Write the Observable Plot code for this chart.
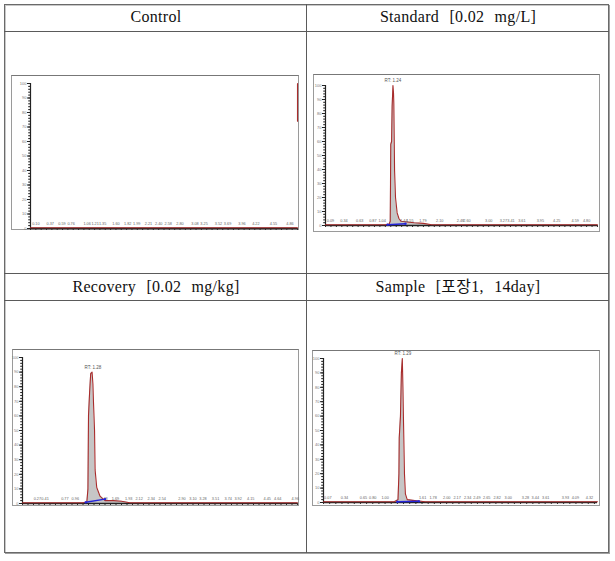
<!DOCTYPE html>
<html><head><meta charset="utf-8">
<script src="https://cdn.jsdelivr.net/npm/d3@7"></script>
<script src="https://cdn.jsdelivr.net/npm/@observablehq/plot@0.6"></script>
<style>
body{margin:0;background:#fff;width:615px;height:561px;position:relative;overflow:hidden;font-family:"Liberation Serif","Noto Sans CJK KR",serif;}
.ln{position:absolute;background:#5a5a5a;}
.hd{position:absolute;width:302px;text-align:center;font-size:16px;color:#111;line-height:16px;letter-spacing:0.3px;word-spacing:6px;white-space:nowrap}
.panel{position:absolute;border:1px solid #9a9a9a;border-top-color:#777;background:#fff;}
.panel svg{display:block}
</style></head><body>
<script>
// ---------- data ----------
const headers = ["Control", "Standard [0.02 mg/L]", "Recovery [0.02 mg/kg]", "Sample [포장1, 14day]"];

// Control trace (retention time, relative abundance %); null = gap in the trace
const conT = [0, 5.0, 5.0, 5.0, 5.0];
const conV = [0.5, 0.5, null, 74, 100];
const conLabels = ["0.10","0.37","0.59","0.76","1.06","1.21","1.35","1.60","1.82","1.99","2.21","2.40","2.58","2.80","3.08","3.25","3.52","3.69","3.96","4.22","4.55","4.86"];

// Standard
const stdT = [0, 1.10, 1.17, 1.19, 1.195, 1.20, 1.215, 1.225, 1.24, 1.25, 1.256, 1.27, 1.287, 1.317, 1.35, 1.39, 1.50, 1.63, 1.80, 1.95, 5.0];
const stdV = [0.5, 0.5, 1, 3, 30, 58, 60, 85, 100, 95, 87, 39, 20, 9, 5, 3, 2.5, 2, 1.5, 0.5, 0.5];
const stdLabels = ["0.09","0.34","0.63","0.87","1.04","1.44","1.55","1.79","2.10","2.48","2.60","3.00","3.27","3.41","3.61","3.95","4.25","4.59","4.80"];
const stdBaseT = [1.14, 1.47];
const stdBaseV = [0.6, 1.2];
const stdRT = 1.24, stdRTv = 100;

// Recovery
const recT = [0, 1.10, 1.17, 1.19, 1.20, 1.22, 1.24, 1.265, 1.28, 1.29, 1.31, 1.32, 1.35, 1.41, 1.50, 1.65, 1.80, 1.95, 5.0];
const recV = [0.5, 0.5, 1, 10, 60, 76, 89, 90, 82, 70, 50, 23, 11, 5, 2, 2, 1.5, 0.5, 0.5];
const recLabels = ["0.27","0.41","0.77","0.96","1.48","1.69","1.93","2.12","2.34","2.54","2.90","3.10","3.28","3.51","3.74","3.92","4.15","4.45","4.64","4.96"];
const recBaseT = [1.15, 1.50];
const recBaseV = [0.8, 3];
const recRT = 1.28, recRTv = 90;

// Sample
const smpT = [0, 1.15, 1.21, 1.225, 1.23, 1.25, 1.265, 1.28, 1.29, 1.30, 1.315, 1.33, 1.36, 1.45, 1.55, 1.65, 4.45];
const smpV = [0.5, 0.5, 2, 20, 45, 60, 90, 100, 80, 55, 20, 6, 2, 1.5, 1, 0.5, 0.5];
const smpLabels = ["0.07","0.34","0.65","0.80","1.00","1.61","1.78","2.00","2.17","2.34","2.49","2.65","2.82","3.00","3.28","3.44","3.61","3.93","4.09","4.32"];
const smpBaseT = [1.20, 1.55];
const smpBaseV = [0.5, 0.8];
const smpRT = 1.29, smpRTv = 100;

const yMajor = [0,10,20,30,40,50,60,70,80,90,100];

// ---------- layout ----------
function div(cls, css, text) {
  const d = document.createElement("div");
  d.className = cls;
  Object.assign(d.style, css);
  if (text) d.textContent = text;
  document.body.appendChild(d);
  return d;
}
div("", {position:"absolute", left:"4px", top:"4px", width:"603px", height:"547px", border:"1px solid #6a6a6a", boxShadow:"inset 1px 1px 0 #c8c8c8, 1px 1px 0 #a0a0a0"});
div("ln", {left:"306px", top:"4px", width:"1px", height:"549px"});
div("ln", {left:"4px", top:"31px", width:"605px", height:"1px"});
div("ln", {left:"4px", top:"273px", width:"605px", height:"1px"});
div("ln", {left:"4px", top:"300px", width:"605px", height:"1px"});
div("hd", {left:"5px", top:"9px"}, headers[0]);
div("hd", {left:"307px", top:"9px"}, headers[1]);
div("hd", {left:"5px", top:"279px"}, headers[2]);
div("hd", {left:"307px", top:"279px"}, headers[3]);

function chrom(g, d) {
  const W = g.R - g.L - 1, H = g.B - g.T - 1;
  const mL = g.ax - (g.L + 1), mR = g.R - g.xEnd, mT = g.y100 - (g.T + 1), mB = g.B - g.y0;
  const trace = d.t.map((t, i) => ({t, v: d.v[i]}));
  const labels = d.labels.map(s => ({t: +s, s}));
  const xMinor = d3.range(0, d.xMax + 1e-9, 0.1);
  const yMinor = d3.range(0, 101, 2);
  const marks = [
    Plot.areaY(trace, {x: "t", y: "v", fill: "#c6c6c6"}),
    Plot.axisY({ticks: yMinor, tickSize: 1.8, tickFormat: () => "", stroke: "#222", label: null}),
    Plot.axisY({ticks: yMajor, tickSize: 3, tickPadding: 1, fontSize: 4, fill: "#777", stroke: "#222", label: null}),
    Plot.axisX({ticks: xMinor, tickSize: 2, tickFormat: () => "", stroke: "#333", label: null}),
    Plot.ruleX([0], {stroke: "#222", strokeWidth: 1.2}),
    Plot.ruleY([0], {stroke: "#222", strokeWidth: 1.6}),
    Plot.lineY(trace, {x: "t", y: "v", stroke: "#a82c2c", strokeWidth: 1.1}),
    Plot.text(labels, {x: "t", y: 0, text: "s", dy: -4.5, fontSize: 3.8, fill: "#666"})
  ];
  if (d.baseT) {
    const base = d.baseT.map((t, i) => ({t, v: d.baseV[i]}));
    marks.push(Plot.lineY(base, {x: "t", y: "v", stroke: "#2424d8", strokeWidth: 1.5}));
    marks.push(Plot.dot(base, {x: "t", y: "v", r: 1.2, fill: "#2424d8"}));
  }
  if (d.rt != null) marks.push(Plot.text([{t: d.rt, v: d.rtv, s: "RT: " + d.rt.toFixed(2)}], {x: "t", y: "v", text: "s", dy: -5, fontSize: 4.5, fill: "#555"}));
  const svg = Plot.plot({
    width: W, height: H,
    marginLeft: mL, marginRight: mR, marginTop: mT, marginBottom: mB,
    x: {domain: [0, d.xMax], label: null},
    y: {domain: [0, 100], label: null},
    style: {background: "#fff", fontFamily: "Liberation Sans, Arial, sans-serif", overflow: "visible"},
    marks
  });
  const p = div("panel", {left: g.L + "px", top: g.T + "px", width: W + "px", height: H + "px"});
  p.appendChild(svg);
}

chrom({L: 11, T: 75, R: 298, B: 229, ax: 30, xEnd: 297, y100: 83, y0: 228},
      {t: conT, v: conV, labels: conLabels, xMax: 5});
chrom({L: 313, T: 74, R: 599, B: 231, ax: 325, xEnd: 597, y100: 85, y0: 225},
      {t: stdT, v: stdV, labels: stdLabels, xMax: 5, baseT: stdBaseT, baseV: stdBaseV, rt: stdRT, rtv: stdRTv});
chrom({L: 12, T: 349, R: 298, B: 505, ax: 22, xEnd: 297, y100: 357, y0: 503},
      {t: recT, v: recV, labels: recLabels, xMax: 5, baseT: recBaseT, baseV: recBaseV, rt: recRT, rtv: recRTv});
chrom({L: 312, T: 350, R: 599, B: 505, ax: 323, xEnd: 597, y100: 358, y0: 502},
      {t: smpT, v: smpV, labels: smpLabels, xMax: 4.45, baseT: smpBaseT, baseV: smpBaseV, rt: smpRT, rtv: smpRTv});
</script>
</body></html>
